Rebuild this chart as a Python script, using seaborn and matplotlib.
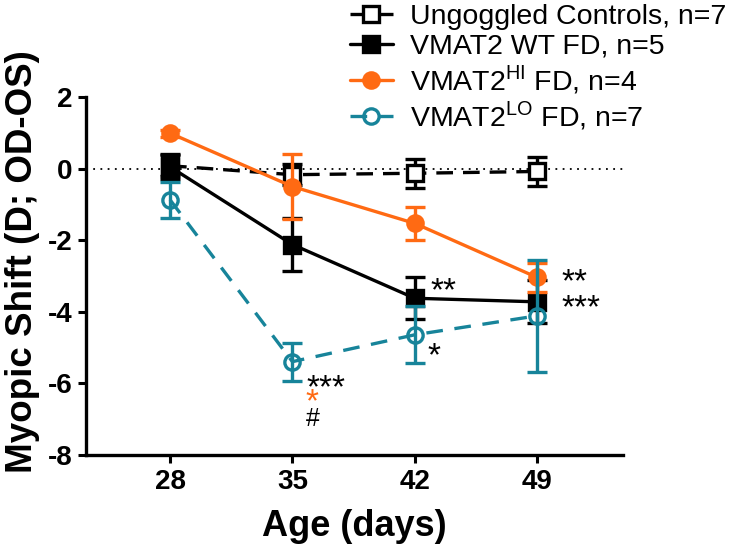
import matplotlib
matplotlib.use("Agg")
import matplotlib.pyplot as plt
import seaborn as sns
import pandas as pd

# values (mean +/- SEM)
days = [28, 35, 42, 49]
ctrl_mean = [0.08, -0.17, -0.13, -0.08]
ctrl_sem = [0.3, 0.3, 0.4, 0.4]
wt_mean = [0.05, -2.12, -3.62, -3.72]
wt_sem = [0.35, 0.75, 0.58, 0.6]
hi_mean = [0.99, -0.5, -1.53, -3.04]
hi_sem = [0.1, 0.91, 0.45, 0.4]
lo_mean = [-0.87, -5.39, -4.64, -4.11]
lo_sem = [0.5, 0.53, 0.79, 1.56]

labels = ["Ungoggled Controls, n=7",
          "VMAT2 WT FD, n=5",
          r"VMAT2$^{\mathregular{HI}}$ FD, n=4",
          r"VMAT2$^{\mathregular{LO}}$ FD, n=7"]

orange = "#FF6A13"
teal = "#17849A"

sns.set_style("ticks")
plt.rcParams["font.family"] = ["Liberation Sans", "DejaVu Sans"]
plt.rcParams["mathtext.fontset"] = "custom"
plt.rcParams["mathtext.rm"] = "Liberation Sans"
for k in ["text.color", "axes.labelcolor", "xtick.color", "ytick.color", "axes.edgecolor"]:
    plt.rcParams[k] = "black"

fig = plt.figure(figsize=(7.55, 5.51), dpi=100)
ax = fig.add_axes([0.114, 0.174, 0.711, 0.65])

ax.axhline(0, color="black", lw=1.3, ls=(0, (1, 3)), zorder=1)

groups = [
    (ctrl_mean, ctrl_sem, labels[0], "black", "s", "white", (0, (5, 3)), 2),
    (wt_mean, wt_sem, labels[1], "black", "s", "black", "-", 3),
    (hi_mean, hi_sem, labels[2], orange, "o", orange, "-", 4),
    (lo_mean, lo_sem, labels[3], teal, "o", "none", (0, (5, 3.5)), 5),
]

for mean, sem, lab, col, mk, mfc, ls, z in groups:
    df = pd.DataFrame({"day": days, "shift": mean})
    ax.errorbar(days, mean, yerr=sem, fmt="none", ecolor=col, elinewidth=2.4,
                capsize=7, capthick=2.4, zorder=z)
    sns.lineplot(data=df, x="day", y="shift", ax=ax, color=col, lw=2.4,
                 linestyle=ls, marker=mk, markersize=11, markerfacecolor=mfc,
                 markeredgecolor=col, markeredgewidth=2.4, label=lab, zorder=z)

# significance marks
star = dict(fontsize=24, ha="left", va="center")
ax.text(42.9, -3.45, "**", **star)
ax.text(42.7, -5.25, "*", **star)
ax.text(50.4, -3.2, "**", **star)
ax.text(50.4, -3.9, "***", **star)
ax.text(35.8, -6.15, "***", **star)
ax.text(35.75, -6.55, "*", color=orange, **star)
ax.text(35.75, -6.98, "#", fontsize=18, ha="left", va="center")

ax.set_xlim(23.2, 53.9)
ax.set_ylim(-8, 2)
ax.set_xticks(days)
ax.set_yticks([2, 0, -2, -4, -6, -8])
ax.set_yticklabels(["2", "0", "-2", "-4", "-6", "-8"])
ax.tick_params(axis="both", width=2.2, length=6, labelsize=20, pad=4)
for t in ax.get_xticklabels() + ax.get_yticklabels():
    t.set_fontweight("bold")
for s in ["left", "bottom"]:
    ax.spines[s].set_linewidth(2.4)
sns.despine(ax=ax)

ax.set_xlabel("Age (days)", fontsize=26, fontweight="bold", labelpad=10)
ax.set_ylabel("Myopic Shift (D; OD-OS)", fontsize=26.5, fontweight="bold")
ax.yaxis.set_label_coords(-0.085, 0.54)

leg = ax.legend(loc="upper left", bbox_to_anchor=(0.458, 1.0), bbox_transform=fig.transFigure,
                frameon=False, fontsize=20.5, handlelength=1.5, handletextpad=0.6,
                labelspacing=0.12, borderaxespad=0, borderpad=0.15)

fig.savefig("out.png", dpi=100)
